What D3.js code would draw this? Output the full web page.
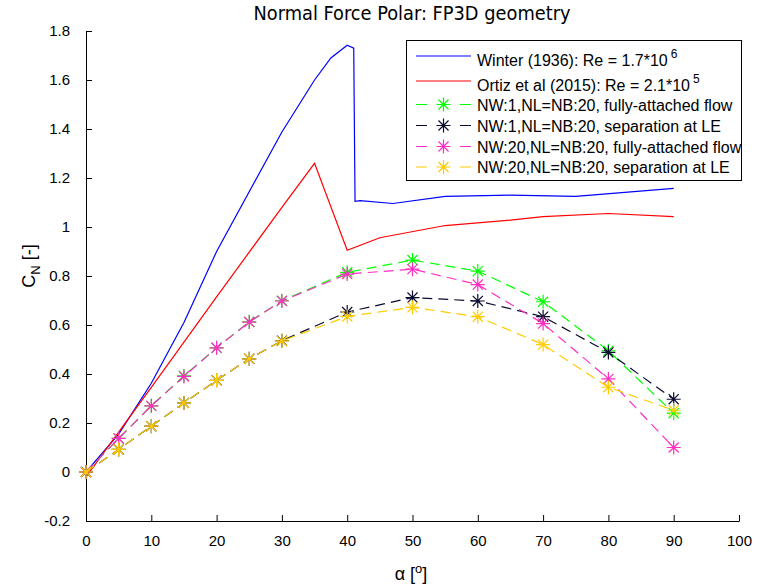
<!DOCTYPE html>
<html>
<head>
<meta charset="utf-8">
<script src="https://cdn.jsdelivr.net/npm/d3@7"></script>
<style>
  html, body { margin: 0; padding: 0; background: #fff; }
  svg { display: block; }
  text { font-family: "Liberation Sans", Arial, Helvetica, sans-serif; fill: #000; }
</style>
</head>
<body>
<script>
// Angle of attack (deg) and normal-force coefficient for each data set
const winterAlpha = [0, 5, 10, 15, 20, 30, 35, 37.5, 40, 41, 41.2, 42, 47, 55, 65, 75, 90];
const winterCN    = [0, 0.155, 0.362, 0.61, 0.9, 1.388, 1.6, 1.69, 1.742, 1.73, 1.105, 1.108, 1.096, 1.125, 1.13, 1.125, 1.158];

const ortizAlpha = [0, 10, 20, 30, 35, 40, 45, 55, 65, 70, 80, 90];
const ortizCN    = [-0.02, 0.345, 0.715, 1.08, 1.26, 0.905, 0.956, 1.006, 1.028, 1.042, 1.055, 1.042];

const modelAlpha = [0, 5, 10, 15, 20, 25, 30, 40, 50, 60, 70, 80, 90];
const nw1AttachedCN  = [0, 0.137, 0.27, 0.392, 0.507, 0.613, 0.699, 0.815, 0.865, 0.82, 0.695, 0.495, 0.24];
const nw1SeparatedCN = [0, 0.092, 0.187, 0.282, 0.374, 0.462, 0.536, 0.653, 0.712, 0.698, 0.634, 0.488, 0.297];
const nw20AttachedCN = [0, 0.137, 0.27, 0.39, 0.507, 0.612, 0.698, 0.808, 0.828, 0.765, 0.606, 0.38, 0.1];
const nw20SeparatedCN = [0, 0.092, 0.187, 0.282, 0.374, 0.462, 0.535, 0.635, 0.672, 0.634, 0.52, 0.346, 0.252];

const xTicks = [0, 10, 20, 30, 40, 50, 60, 70, 80, 90, 100];
const yTicks = [-0.2, 0, 0.2, 0.4, 0.6, 0.8, 1, 1.2, 1.4, 1.6, 1.8];
const yTickLabels = ["-0.2", "0", "0.2", "0.4", "0.6", "0.8", "1", "1.2", "1.4", "1.6", "1.8"];

const seriesNames = [
  "Winter (1936): Re = 1.7*10",
  "Ortiz et al (2015): Re = 2.1*10",
  "NW:1,NL=NB:20, fully-attached flow",
  "NW:1,NL=NB:20, separation at LE",
  "NW:20,NL=NB:20, fully-attached flow",
  "NW:20,NL=NB:20, separation at LE"
];
const superscripts = ["6", "5", null, null, null, null];
const seriesColors = ["#0000ff", "#ff0000", "#00ff00", "#0b0b30", "#ff2ec4", "#ffcc00"];

const W = 783, H = 587;
const svg = d3.select("body").append("svg").attr("width", W).attr("height", H);

const x = d3.scaleLinear().domain([0, 100]).range([86, 739]);
const y = d3.scaleLinear().domain([-0.2, 1.8]).range([521, 31]);

// Axes (left and bottom only, ticks pointing inward)
const xAxis = d3.axisBottom(x).tickValues(xTicks).tickSizeInner(-6).tickSizeOuter(0).tickPadding(14).tickFormat(d3.format("d"));
const yAxis = d3.axisLeft(y).tickValues(yTicks).tickSizeInner(-6).tickSizeOuter(0).tickPadding(16)
  .tickFormat((d, i) => yTickLabels[i]);

const gx = svg.append("g").attr("transform", `translate(0,${y(-0.2)})`).call(xAxis);
const gy = svg.append("g").attr("transform", `translate(${x(0)},0)`).call(yAxis);
[gx, gy].forEach(g => {
  g.select(".domain").attr("stroke", "#000").attr("stroke-width", 1);
  g.selectAll(".tick line").attr("stroke", "#000").attr("stroke-width", 1);
  g.selectAll(".tick text").attr("font-size", 15).attr("font-family", "Liberation Sans, Arial, sans-serif").attr("fill", "#000");
});

// Title and axis labels
svg.append("text")
  .attr("x", 412).attr("y", 20)
  .attr("text-anchor", "middle")
  .attr("font-size", 19)
  .style("font-family", "'DejaVu Sans Condensed', 'DejaVu Sans', sans-serif")
  .style("font-stretch", "condensed")
  .attr("textLength", 317).attr("lengthAdjust", "spacingAndGlyphs")
  .text("Normal Force Polar: FP3D geometry");

const xl = svg.append("text").attr("x", 411).attr("y", 580).attr("text-anchor", "middle").attr("font-size", 18);
xl.append("tspan").text("α [");
xl.append("tspan").attr("dy", -7).attr("font-size", 13).text("o");
xl.append("tspan").attr("dy", 7).text("]");

const yl = svg.append("text").attr("transform", "translate(35,266) rotate(-90)").attr("text-anchor", "middle").attr("font-size", 18);
yl.append("tspan").text("C");
yl.append("tspan").attr("dy", 5).attr("font-size", 13).text("N");
yl.append("tspan").attr("dy", -5).text(" [-]");

// Asterisk marker (plus + cross)
function starPath(r) {
  const d = r * 0.72;
  return `M${-r},0L${r},0M0,${-r}L0,${r}M${-d},${-d}L${d},${d}M${-d},${d}L${d},${-d}`;
}

const line = d3.line().x(d => x(d[0])).y(d => y(d[1]));
const plot = svg.append("g");

// Reference measurements (solid)
plot.append("path").datum(d3.zip(winterAlpha, winterCN))
  .attr("d", line).attr("fill", "none").attr("stroke", seriesColors[0]).attr("stroke-width", 1.2);
plot.append("path").datum(d3.zip(ortizAlpha, ortizCN))
  .attr("d", line).attr("fill", "none").attr("stroke", seriesColors[1]).attr("stroke-width", 1.2);

// Model predictions (dashed with asterisks)
const modelSeries = [nw1AttachedCN, nw1SeparatedCN, nw20AttachedCN, nw20SeparatedCN];
modelSeries.forEach((vals, i) => {
  const col = seriesColors[i + 2];
  const pts = d3.zip(modelAlpha, vals);
  plot.append("path").datum(pts)
    .attr("d", line).attr("fill", "none").attr("stroke", col)
    .attr("stroke-width", 1.2).attr("stroke-dasharray", "10,6");
  plot.append("g").selectAll("path").data(pts).join("path")
    .attr("transform", d => `translate(${x(d[0])},${y(d[1])})`)
    .attr("d", starPath(7)).attr("fill", "none").attr("stroke", col).attr("stroke-width", 1.2);
});

// Legend
const lg = svg.append("g");
lg.append("rect").attr("x", 406.5).attr("y", 40.5).attr("width", 335).attr("height", 140)
  .attr("fill", "#fff").attr("stroke", "#000").attr("stroke-width", 1);
const rowY = [56, 81, 104.5, 125.5, 146.5, 167];
seriesNames.forEach((name, i) => {
  const ly = rowY[i];
  const col = seriesColors[i];
  if (i < 2) {
    lg.append("line").attr("x1", 416).attr("x2", 471).attr("y1", ly).attr("y2", ly)
      .attr("stroke", col).attr("stroke-width", 1.2);
  } else {
    lg.append("line").attr("x1", 416).attr("x2", 471).attr("y1", ly).attr("y2", ly)
      .attr("stroke", col).attr("stroke-width", 1.2).attr("stroke-dasharray", "11,33");
    lg.append("path").attr("transform", `translate(443.5,${ly})`).attr("d", starPath(7))
      .attr("fill", "none").attr("stroke", col).attr("stroke-width", 1.2);
  }
  const t = lg.append("text").attr("x", 477).attr("y", i < 2 ? ly + 10 : ly + 6).attr("font-size", 16);
  t.append("tspan").text(name);
  if (superscripts[i]) {
    t.append("tspan").attr("dx", 3).attr("dy", -8).attr("font-size", 12).text(superscripts[i]);
  }
});
</script>
</body>
</html>
